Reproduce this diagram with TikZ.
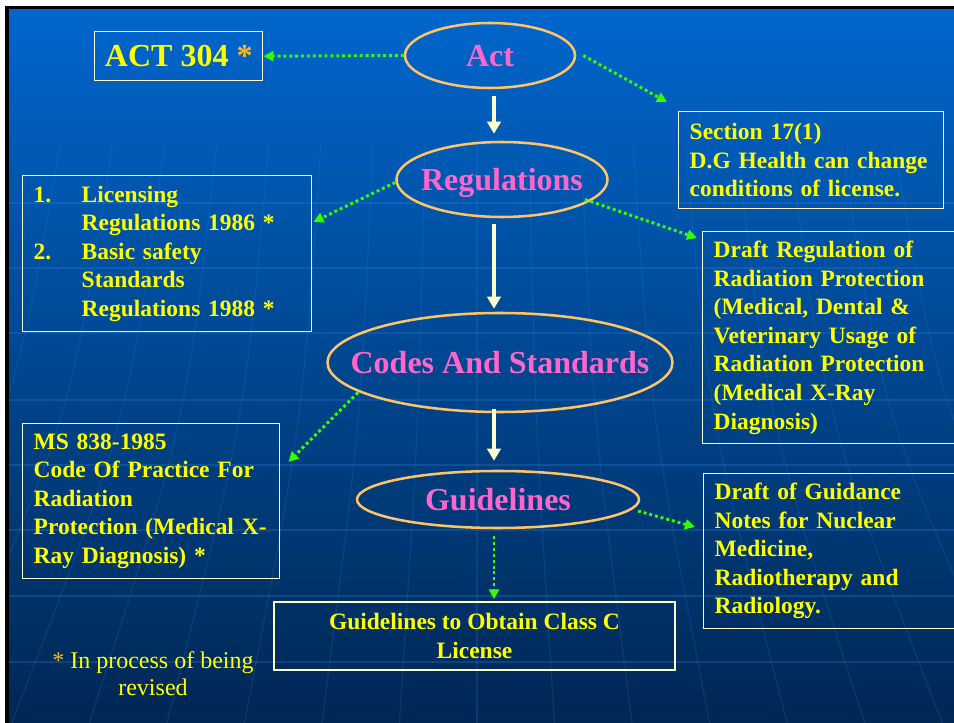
\documentclass[tikz,border=0pt]{standalone}
\usepackage{fontspec}
\setmainfont{Liberation Serif}
\usetikzlibrary{shapes.geometric,arrows.meta,calc}
\definecolor{txtyellow}{RGB}{255,255,0}
\definecolor{ovalpink}{RGB}{255,102,204}
\definecolor{ovalline}{RGB}{255,196,102}
\definecolor{boxline}{RGB}{255,255,204}
\definecolor{dotgreen}{RGB}{51,255,0}
\definecolor{starorange}{RGB}{255,185,20}
\definecolor{bgtop}{RGB}{0,102,204}
\definecolor{bgmid}{RGB}{0,78,158}
\definecolor{bgbot}{RGB}{0,38,82}
\definecolor{gridc}{RGB}{40,125,215}
\newcommand{\oneline}[1]{\mbox{#1}}
\newcommand{\ovaltext}[1]{\makebox[0pt]{\raisebox{-0.33em}[0pt][0pt]{#1}}}
\tikzset{
  infobox/.style={draw=boxline, line width=1.1pt, text=txtyellow,
    font=\fontsize{17.6}{21.4}\selectfont\bfseries, align=left,
    inner xsep=8.25pt, inner ysep=0pt, anchor=north west},
  oval/.style={ellipse, draw=ovalline, line width=1.9pt, text=ovalpink,
    font=\fontsize{24}{28}\selectfont\bfseries, inner sep=0pt},
  dotarrow/.style={draw=dotgreen, line width=2.2pt, dash pattern=on 2.2pt off 2.2pt,
    -{Triangle[length=7.5pt,width=7.5pt]}},
  whitearrow/.style={draw=boxline, line width=3pt, -{Triangle[length=9pt,width=10pt]}},
  gridline/.style={draw=gridc, opacity=0.3, line width=0.8pt}
}
\begin{document}
\begin{tikzpicture}[x=0.75pt,y=-0.75pt]
\useasboundingbox (0,0) rectangle (954,723);
\clip (0,0) rectangle (954,723);
\fill[white] (0,0) rectangle (954,723);
\fill[black] (5,6) rectangle (960,730);
\shade[top color=bgtop, middle color=bgmid, bottom color=bgbot] (9,10) rectangle (960,730);
\begin{scope}
\clip (9,10) rectangle (960,730);
\foreach \yy in {203,268,333,400,465,530,596,662}
  \draw[gridline] (9,\yy) -- (960,\yy);
\foreach \k in {-8,...,8}
  \draw[gridline, opacity=0.22] (477+\k*52,140) .. controls (477+\k*58,420) .. (477+\k*78,730);
\end{scope}

% ellipses
\node[oval, minimum width=127.5pt, minimum height=48.75pt] (act) at (490,55.5) {\ovaltext{Act}};
\node[oval, minimum width=158.25pt, minimum height=56.25pt] (reg) at (502,179.5) {\ovaltext{Regulations}};
\node[oval, minimum width=258.75pt, minimum height=74.25pt] (codes) at (500,362.5) {\ovaltext{Codes And Standards}};
\node[oval, minimum width=211.5pt, minimum height=42.75pt] (guide) at (498,499.5) {\ovaltext{Guidelines}};

% boxes
\node[infobox, font=\fontsize{24}{28}\selectfont\bfseries, align=center, inner xsep=0pt,
  minimum width=126pt, minimum height=36.75pt] (act304) at (94,31)
  {ACT 304 \textcolor{starorange}{*}};
\node[infobox, text width=182.25pt, minimum height=72.75pt] (sec) at (678,111)
  {\oneline{Section 17(1)}\\\oneline{D.G Health can change}\\\oneline{conditions of license.}};
\node[infobox, text width=175.5pt, minimum height=159pt] (dreg) at (702,231)
  {\oneline{Draft Regulation of}\\\oneline{Radiation Protection}\\\oneline{(Medical, Dental \&}\\\oneline{Veterinary Usage of}\\\oneline{Radiation Protection}\\\oneline{(Medical X-Ray}\\\oneline{Diagnosis)}};
\node[infobox, text width=200.25pt, minimum height=117pt] (lic) at (22,175)
  {\makebox[36pt][l]{1.}Licensing\\\hspace*{36pt}Regulations 1986 *\\\makebox[36pt][l]{2.}Basic safety\\\hspace*{36pt}Standards\\\hspace*{36pt}Regulations 1988 *};
\node[infobox, text width=176.25pt, minimum height=116.25pt] (ms) at (22,423)
  {\oneline{MS 838-1985}\\\oneline{Code Of Practice For}\\\oneline{Radiation}\\\oneline{Protection (Medical X-}\\\oneline{Ray Diagnosis) *}};
\node[infobox, text width=174.75pt, minimum height=116.25pt] (dg) at (703,473)
  {\oneline{Draft of Guidance}\\\oneline{Notes for Nuclear}\\\oneline{Medicine,}\\\oneline{Radiotherapy and}\\\oneline{Radiology.}};
\node[infobox, anchor=center, align=center, inner xsep=0pt, minimum width=300.75pt, minimum height=51pt] (cls) at (474.5,636)
  {Guidelines to Obtain Class C\\License};
\node[text=txtyellow, align=center, font=\fontsize{18}{20.25}\selectfont] (note) at (153,673.5)
  {\textcolor{starorange}{*} In process of being\\revised};

% connectors
\draw[dotarrow] (act.west) -- (act304.east);
\draw[dotarrow] ($(act.east)+(7,0)$) -- ($(sec.north west)+(-11,-9)$);
\draw[whitearrow] ($(act.south)+(4,7)$) -- ($(reg.north)+(-8,-7)$);
\draw[dotarrow] ($(reg.west)+(0,3)$) -- ($(lic.north east)+(1,47)$);
\draw[dotarrow] ($(reg.center)+(83,20)$) -- ($(dreg.north west)+(-5,7)$);
\draw[whitearrow] ($(reg.south)+(-8,6)$) -- ($(codes.north)+(-6,-3)$);
\draw[dotarrow] ($(codes.center)+(-142,30)$) -- ($(ms.north east)+(8,39)$);
\draw[whitearrow] ($(codes.south)+(-6,-4)$) -- ($(guide.north)+(-4,-9)$);
\draw[dotarrow] ($(guide.south)+(-4,7)$) -- ($(cls.north)+(19.5,-2)$);
\draw[dotarrow] ($(guide.center)+(140,11.5)$) -- ($(dg.north west)+(-8,54)$);
\end{tikzpicture}
\end{document}
